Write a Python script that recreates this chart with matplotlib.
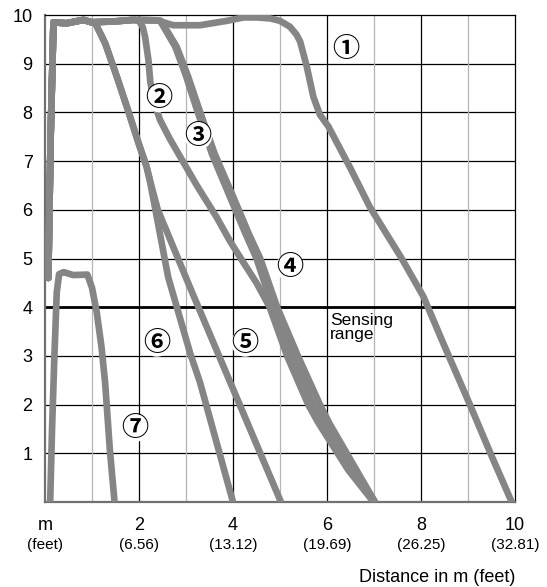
import matplotlib
matplotlib.use("Agg")
import matplotlib.pyplot as plt
import matplotlib.transforms as mtransforms

# ---- data ----
start_x = [0.07, 0.12, 0.18, 0.46, 0.82, 0.99]
start_y = [4.60, 7.50, 9.85, 9.83, 9.90, 9.85]

c1_x = start_x + [1.50, 1.88, 2.38, 2.73, 3.30, 3.87, 4.22, 4.50, 4.79, 5.00, 5.21, 5.35, 5.43, 5.57, 5.71, 5.85, 6.03, 6.50, 6.91, 7.59, 8.05, 8.50, 9.04, 9.50, 9.93]
c1_y = start_y + [9.87, 9.90, 9.89, 9.79, 9.79, 9.88, 9.95, 9.95, 9.93, 9.88, 9.76, 9.60, 9.45, 8.94, 8.32, 7.95, 7.71, 6.85, 6.06, 5.00, 4.22, 3.20, 2.00, 0.95, 0.00]

c2_x = start_x + [1.50, 1.88, 2.00, 2.08, 2.13, 2.20, 2.24, 2.32, 2.45, 2.66, 2.90, 3.23, 3.65, 3.94, 4.20, 4.50, 4.78, 5.15, 5.60, 5.82, 6.45, 6.99]
c2_y = start_y + [9.87, 9.90, 9.88, 9.75, 9.55, 9.08, 8.63, 8.20, 7.84, 7.45, 7.05, 6.50, 5.85, 5.35, 4.95, 4.50, 4.00, 3.00, 2.00, 1.62, 0.66, 0.00]

c3_x = start_x + [1.50, 1.88, 2.38, 2.45, 2.77, 3.00, 3.20, 3.55, 3.92, 4.27, 4.50, 4.84, 5.25, 5.70, 5.99, 7.02]
c3_y = start_y + [9.87, 9.90, 9.89, 9.88, 9.35, 8.75, 8.15, 7.15, 6.30, 5.50, 5.00, 4.00, 3.00, 2.00, 1.60, 0.00]

c4_x = start_x + [1.50, 1.88, 2.38, 2.47, 2.80, 3.04, 3.25, 3.61, 3.99, 4.34, 4.58, 4.94, 5.38, 5.85, 6.06, 7.02]
c4_y = start_y + [9.87, 9.90, 9.89, 9.88, 9.35, 8.75, 8.15, 7.15, 6.30, 5.50, 5.00, 4.00, 3.00, 2.00, 1.60, 0.00]

trunk_x = start_x + [1.06, 1.28, 1.53, 1.74, 1.99, 2.16, 2.22]
trunk_y = start_y + [9.85, 9.42, 8.73, 8.12, 7.37, 6.89, 6.65]

c5_x = trunk_x + [2.40, 3.11, 3.65, 5.02]
c5_y = trunk_y + [6.00, 4.35, 3.12, 0.00]

c6_x = trunk_x + [2.33, 2.62, 3.09, 3.30, 4.00]
c6_y = trunk_y + [6.10, 4.62, 3.05, 2.45, 0.00]

c7_x = [0.11, 0.15, 0.20, 0.25, 0.30, 0.40, 0.60, 0.90, 1.00, 1.10, 1.20, 1.28, 1.38, 1.48]
c7_y = [0.00, 1.50, 3.00, 4.30, 4.68, 4.72, 4.66, 4.67, 4.40, 3.90, 3.20, 2.44, 1.07, 0.00]

curves = [(c1_x, c1_y), (c2_x, c2_y), (c3_x, c3_y), (c4_x, c4_y),
          (c5_x, c5_y), (c6_x, c6_y), (c7_x, c7_y)]

label_text = ["\u2460", "\u2461", "\u2462", "\u2463", "\u2464", "\u2465", "\u2466"]
label_x = [6.40, 2.43, 3.26, 5.21, 4.26, 2.38, 1.91]
label_y = [9.30, 8.29, 7.52, 4.83, 3.27, 3.27, 1.52]

x_ticks = [0, 2, 4, 6, 8, 10]
x_tick_top = ["m", "2", "4", "6", "8", "10"]
x_tick_bottom = ["(feet)", "(6.56)", "(13.12)", "(19.69)", "(26.25)", "(32.81)"]
y_ticks = [1, 2, 3, 4, 5, 6, 7, 8, 9, 10]
sensing_level = 4

# ---- figure ----
FONT = ["Liberation Sans", "DejaVu Sans"]
fig = plt.figure(figsize=(5.47, 5.87), dpi=100)
ax = fig.add_axes([45 / 547, 1 - 502 / 587, 470 / 547, 487 / 587])
ax.set_xlim(0, 10)
ax.set_ylim(0, 10)

for v in range(1, 10):
    ax.axhline(v, color="black", lw=0.9, zorder=1)
for v in range(1, 10):
    ax.axvline(v, color="black" if v % 2 == 0 else "#b4b4b4", lw=0.9, zorder=1)
ax.axhline(sensing_level, color="black", lw=2.0, zorder=1.5)

for cx, cy in curves:
    ax.plot(cx, cy, color="#858585", lw=4.8, solid_capstyle="round",
            solid_joinstyle="round", zorder=3)

for t, lx, ly in zip(label_text, label_x, label_y):
    ax.text(lx, ly, t, fontsize=19.5, ha="center", va="center",
            family=["Noto Sans CJK JP", "DejaVu Sans"], weight="bold",
            color="black", zorder=5,
            bbox=dict(boxstyle="circle,pad=0.0", fc="white", ec="none"))

ax.text(6.06, 3.88, "Sensing\nrange", fontsize=12.5, ha="left", va="top",
        family=FONT, linespacing=0.95, zorder=4)

# spines
for s in ["top", "right"]:
    ax.spines[s].set_color("black")
    ax.spines[s].set_linewidth(0.9)
ax.spines["left"].set_color("#707070")
ax.spines["left"].set_linewidth(1.6)
ax.spines["bottom"].set_color("#707070")
ax.spines["bottom"].set_linewidth(1.6)

ax.set_yticks(y_ticks)
ax.set_yticklabels([str(v) for v in y_ticks], fontsize=13, family=FONT)
ax.tick_params(axis="y", length=0, pad=9)
ax.set_xticks([])

trans = mtransforms.blended_transform_factory(ax.transData, ax.transAxes)
for xv, top, bot in zip(x_ticks, x_tick_top, x_tick_bottom):
    ax.text(xv, -0.048, top, transform=trans, ha="center", va="center",
            fontsize=13, family=FONT)
    ax.text(xv, -0.088, bot, transform=trans, ha="center", va="center",
            fontsize=11, family=FONT)

fig.text(515 / 547, 1 - 577 / 587, "Distance in m (feet)", ha="right", va="center",
         fontsize=13, family=FONT)

fig.savefig("out.png", dpi=100, facecolor="white")
